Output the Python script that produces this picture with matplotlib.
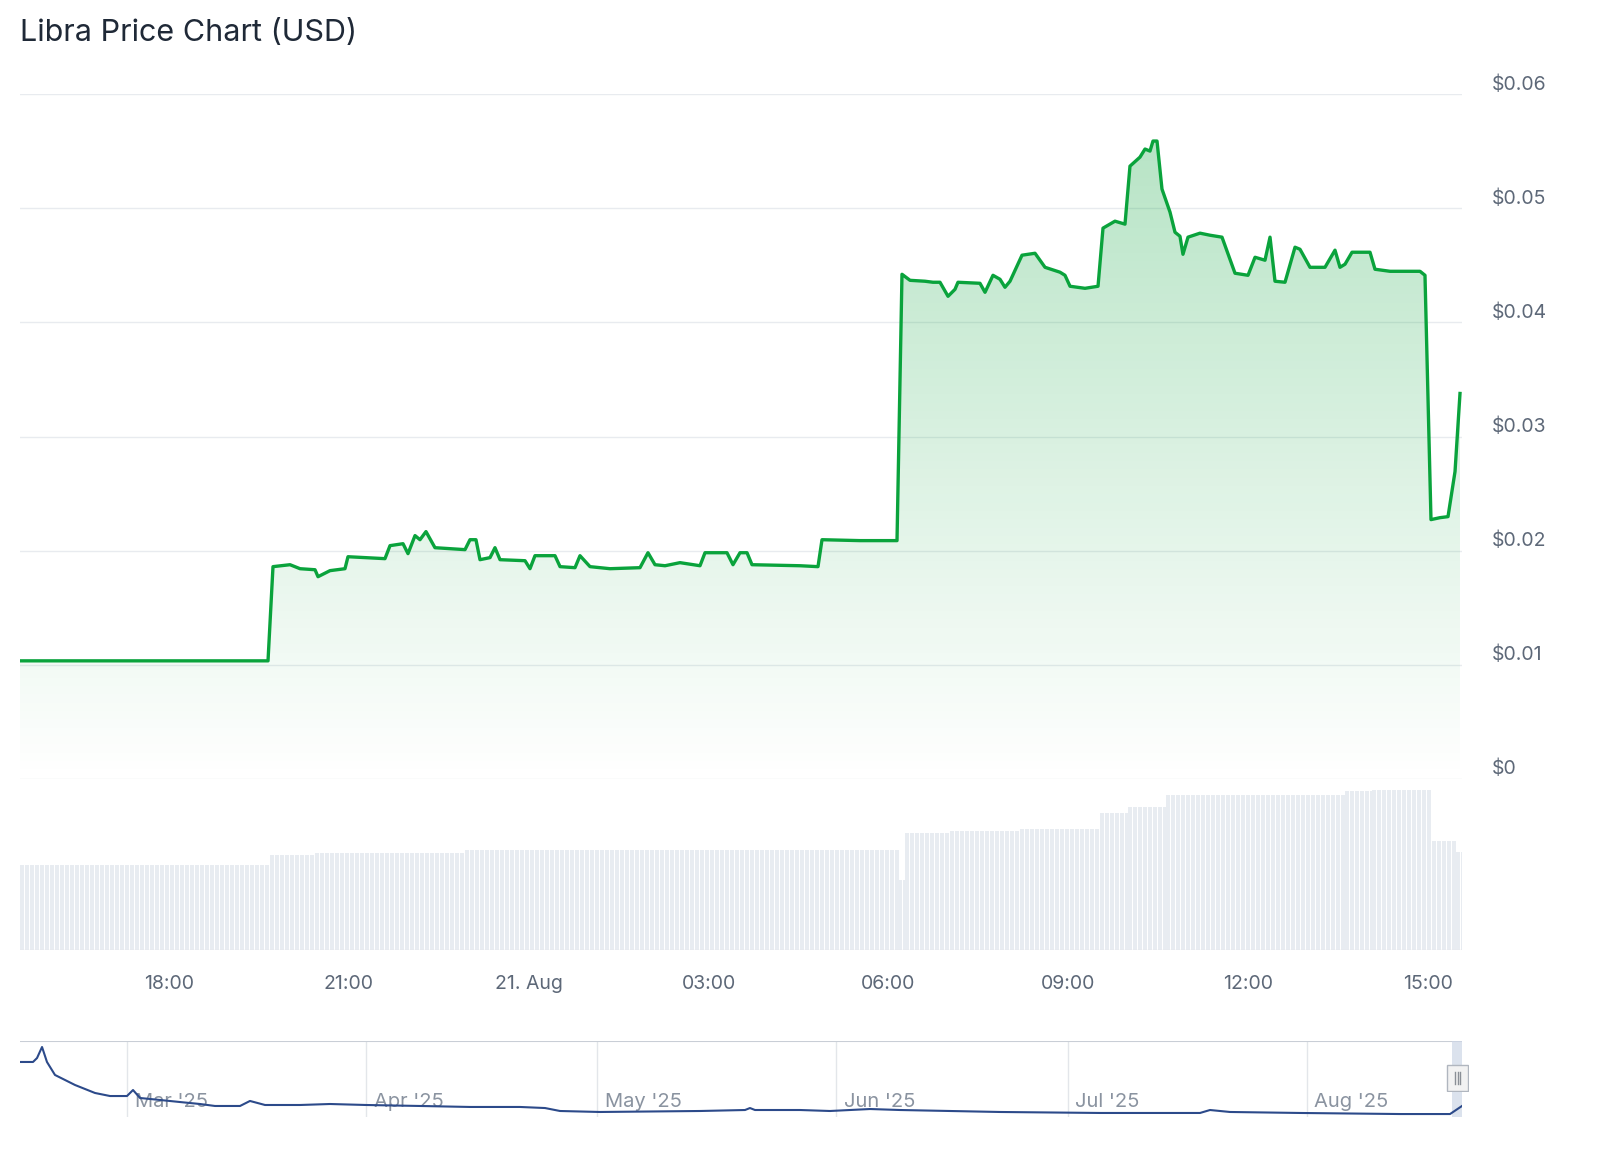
import numpy as np
import matplotlib
matplotlib.use("Agg")
import matplotlib.pyplot as plt
from matplotlib.patches import Polygon, Rectangle
from matplotlib.colors import LinearSegmentedColormap

plt.rcParams['font.family'] = ['Inter', 'DejaVu Sans']

PXH = 59.95
X0H = 15.515

# ---- data (hours since 20 Aug 00:00, price USD) ----
px_x = [20,268,273,290,300,315,318,330,345,348,385,390,403,408,415,420,426,435,465,470,476,480,490,495,500,525,530,535,555,560,575,580,590,610,640,648,655,665,680,700,705,727,733,740,747,752,800,818,822,860,897,902,910,925,933,940,948,955,958,980,985,993,1000,1005,1010,1022,1035,1045,1060,1065,1070,1085,1098,1103,1115,1125,1130,1140,1145,1150,1153,1157,1162,1170,1175,1180,1183,1188,1200,1210,1222,1235,1248,1255,1265,1270,1275,1285,1295,1300,1310,1325,1335,1340,1345,1352,1370,1375,1390,1420,1425,1431,1440,1448,1455,1460]
px_y = [661,661,567,565,569,570,577,571,569,557,559,546,544,554,536,540,532,548,550,540,540,560,558,548,560,561,569,556,556,567,568,556,567,569,568,553,565,566,563,566,553,553,565,553,553,565,566,567,540,541,541,275,281,282,283,283,297,290,283,284,293,276,280,288,282,256,254,268,273,276,287,289,287,229,222,225,167,158,150,152,142,142,190,213,233,237,255,238,234,236,238,274,276,258,261,238,282,283,248,250,268,268,251,268,265,253,253,270,272,272,276,520,518,517,472,394]
hours = [round(X0H + (x - 20) / PXH, 3) for x in px_x]
prices = [round((779 - y) / 11400, 5) for y in px_y]

# cumulative volume step segments (pixel bounds -> hours) and levels
vol_bounds_px = [20,270,315,465,898,905,950,1020,1100,1128,1166,1345,1372,1427,1456,1463]
vol_level = [85, 95, 97, 100, 70, 117, 119, 121, 137, 143, 155, 159, 160, 109, 98]
vol_bounds = [round(X0H + (x - 20) / PXH, 3) for x in vol_bounds_px]

nav_px_x = [20,33,37,42,47,55,75,95,110,127,133,140,160,180,200,215,240,250,265,300,330,366,420,470,520,545,560,600,700,745,750,755,800,830,870,900,1000,1100,1200,1210,1230,1300,1400,1450,1462]
nav_px_y = [1062,1062,1058,1047,1062,1075,1085,1093,1096,1096,1090,1098,1100,1102,1104,1106,1106,1101,1105,1105,1104,1105,1106,1107,1107,1108,1111,1112,1111,1110,1108,1110,1110,1111,1109,1110,1112,1113,1113,1110,1112,1113,1114,1114,1106]
nav_days = [round((x - 127) / 7.71, 2) for x in nav_px_x]
nav_vals = [round((1117 - y) / 76, 3) for y in nav_px_y]
nav_month_days = [0, 31, 61, 92, 122, 153]
nav_month_labels = ["Mar '25", "Apr '25", "May '25", "Jun '25", "Jul '25", "Aug '25"]

xticks = [18, 21, 24, 27, 30, 33, 36, 39]
xticklabels = ["18:00", "21:00", "21. Aug", "03:00", "06:00", "09:00", "12:00", "15:00"]
yticks = [0, 0.01, 0.02, 0.03, 0.04, 0.05, 0.06]
yticklabels = ["$0", "$0.01", "$0.02", "$0.03", "$0.04", "$0.05", "$0.06"]

W, H = 1600, 1168
fig = plt.figure(figsize=(16, 11.68), dpi=100)
def rect(l, t, r, b):
    return [l / W, 1 - b / H, (r - l) / W, (b - t) / H]

GREEN = "#0aa33c"
TXT = "#5d6878"
GRID = "#e8ebef"
x0, x1 = X0H, X0H + 1442 / PXH

# main price axis
ax = fig.add_axes(rect(20, 94, 1462, 779))
ax.set_xlim(x0, x1)
ax.set_ylim(0, 0.06)
for v in yticks:
    ax.axhline(v, color=GRID, lw=1, zorder=0)
grad = np.linspace(0, 1, 256).reshape(-1, 1)
cmap = LinearSegmentedColormap.from_list("g", [(0.06, 0.65, 0.25, 0.0), (0.06, 0.65, 0.25, 0.30)])
im = ax.imshow(grad, extent=[x0, x1, 0, 0.056], origin="lower", aspect="auto", cmap=cmap, zorder=1)
poly = Polygon(list(zip(hours, prices)) + [(hours[-1], 0), (hours[0], 0)], closed=True, transform=ax.transData)
im.set_clip_path(poly)
ax.plot(hours, prices, color=GREEN, lw=2.4, zorder=3, solid_joinstyle="round")
ax.set_xticks([]); ax.set_yticks([])
for s in ax.spines.values():
    s.set_visible(False)
for v, lab in zip(yticks, yticklabels):
    ax.text(1492 / W, 1 - (779 - v * 11400 - 10) / H, lab, transform=fig.transFigure,
            fontsize=14, color=TXT, va="center", ha="left")

# volume axis
axv = fig.add_axes(rect(20, 779, 1462, 950))
axv.set_xlim(x0, x1)
axv.set_ylim(0, 171)
bw = 5 / 60
for s0, s1, lev in zip(vol_bounds[:-1], vol_bounds[1:], vol_level):
    t = np.arange(s0, s1 - 1e-6, bw)
    axv.bar(t, [lev] * len(t), width=bw * 0.8, align="edge", color="#e8ecf1", lw=0)
axv.axhline(0, color="#e3e6ea", lw=1)
axv.set_xticks(xticks)
axv.set_xticklabels(xticklabels, fontsize=14, color=TXT)
axv.tick_params(axis="x", length=0, pad=18)
axv.set_yticks([])
for s in axv.spines.values():
    s.set_visible(False)

# title
fig.text(20 / W, 1 - 33 / H, "Libra Price Chart (USD)", fontsize=22, color="#1f2937", va="center", ha="left")

# navigator
axn = fig.add_axes(rect(20, 1041, 1462, 1117))
axn.set_xlim((20 - 127) / 7.71, (1462 - 127) / 7.71)
axn.set_ylim(0, 1)
for d, lab in zip(nav_month_days, nav_month_labels):
    axn.axvline(d, color="#e3e6ea", lw=1, zorder=0)
    axn.text(d + 1, 0.2, lab, fontsize=14.5, color="#8a93a0", va="center", ha="left", zorder=1)
axn.plot(nav_days, nav_vals, color="#2c4a8a", lw=1.5, zorder=3)
axn.axhline(1, color="#c9ced6", lw=1.5)
xr = (1452 - 127) / 7.71
axn.add_patch(Rectangle((xr, 0), (1462 - 1452) / 7.71, 1, color="#cdd6e6", alpha=0.7, lw=0, zorder=2))
axn.set_xticks([]); axn.set_yticks([])
for s in axn.spines.values():
    s.set_visible(False)
# handle
hx = fig.add_axes(rect(1446, 1064, 1469, 1092))
hx.add_patch(Rectangle((0, 0), 1, 1, facecolor="#f2f2f2", edgecolor="#b0b6bf", lw=1))
for xx in (0.38, 0.5, 0.62):
    hx.plot([xx, xx], [0.25, 0.75], color="#8a8f96", lw=1)
hx.set_xlim(-0.05, 1.05); hx.set_ylim(-0.05, 1.05); hx.axis("off")

fig.savefig("out.png", dpi=100)
